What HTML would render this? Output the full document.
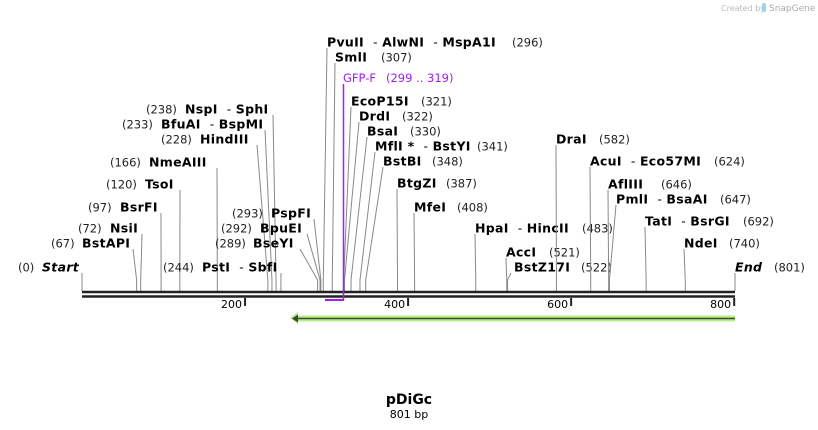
<!DOCTYPE html>
<html><head><meta charset="utf-8"><style>
html,body{margin:0;padding:0;background:#fff;}
svg{display:block;font-family:"DejaVu Sans","Liberation Sans",sans-serif;}
.n{font-weight:bold;font-size:12.5px;letter-spacing:0.3px;fill:#000;}
.p{font-size:11.5px;fill:#222;}
</style></head><body>
<svg id="map" width="818" height="430" viewBox="0 0 818 430">
<text x="721" y="11" font-size="8" fill="#bbb">Created by</text>
<rect x="762" y="3" width="4" height="9" rx="2" fill="#9cd3f2"></rect>
<text x="769" y="11" font-size="9" fill="#aaa">SnapGene</text>
<g id="sites"></g>
<line x1="82" y1="292" x2="735" y2="292" stroke="#222" stroke-width="2.6"></line>
<line x1="82" y1="296.5" x2="735" y2="296.5" stroke="#222" stroke-width="2.6"></line>
<g id="ticks"></g>
<g>
<line x1="343.5" y1="84" x2="343.5" y2="300" stroke="#a020f0" stroke-width="1.5"></line>
<line x1="325" y1="300" x2="344" y2="300" stroke="#a020f0" stroke-width="2"></line>
<text x="343" y="82" font-size="11.5" fill="#a020f0">GFP-F<tspan dx="10">(299 .. 319)</tspan></text>
</g>
<g>
<polygon points="290,318 298,312 298,315.5 735,315.5 735,321.5 298,321.5 298,324" fill="#b8ec8c"></polygon>
<line x1="296" y1="318.5" x2="735" y2="318.5" stroke="#3a4a30" stroke-width="1.6"></line>
<polygon points="292,318.5 298,314.5 298,322.5" fill="#3a4a30"></polygon>
</g>
<text x="409" y="404" text-anchor="middle" font-weight="bold" font-size="14">pDiGc</text>
<text x="409" y="418" text-anchor="middle" font-size="11">801 bp</text>
</svg>
<script>
const siteNames=["Start","BstAPI","NsiI","BsrFI","TsoI","NmeAIII","HindIII","BfuAI - BspMI","NspI - SphI","PstI - SbfI","BseYI","BpuEI","PspFI","PvuII - AlwNI - MspA1I","SmlI","EcoP15I","DrdI","BsaI","MflI * - BstYI","BstBI","BtgZI","MfeI","HpaI - HincII","AccI","BstZ17I","DraI","AcuI - Eco57MI","AflIII","PmlI - BsaAI","TatI - BsrGI","NdeI","End"];
const sitePositions=[0,67,72,97,120,166,228,233,238,244,289,292,293,296,307,321,322,330,341,348,387,408,483,521,522,582,624,646,647,692,740,801];
const tickValues=[200,400,600,800];
const totalBp=801;
// layout: [labelCenterY, nameX, numberX, lineTopX]
const layout=[[267,42,18,82],[243,82,51,133],[228,110,78,142],[207,120,88,161],[184,145,106,180],[162,149,110,217],[139,200,161,257],[124,161,122,265],[109,185,146,273],[267,202,163,281],[243,253,215,300],[228,260,221,307],[213,271,232,314],[42,327,512,327],[57,335,381,335],[101,351,421,351],[116,359,402,359],[131,367,410,367],[146,375,477,375],[161,383,432,383],[183,397,446,397],[207,414,457,414],[228,475,582,475],[252,506,549,506],[267,514,581,511],[139,556,599,556],[161,590,714,590],[184,608,661,608],[199,616,720,616],[221,645,743,645],[243,684,729,684],[267,735,774,735]];
const NS="http://www.w3.org/2000/svg";
const x0=82,x1=735;
function xs(bp){return x0+(x1-x0)*bp/totalBp;}
const g=document.getElementById('sites');
siteNames.forEach((nm,i)=>{
  const [cy,nx,px,tx]=layout[i];
  const sx=xs(sitePositions[i]);
  const grp=document.createElementNS(NS,'g');
  
  
  const pl=document.createElementNS(NS,'polyline');
  pl.setAttribute('points',`${sx},291 ${sx},280 ${tx},${cy+6}`);
  pl.setAttribute('fill','none');pl.setAttribute('stroke','#888');pl.setAttribute('stroke-width','1');
  grp.appendChild(pl);
  const t=document.createElementNS(NS,'text');
  t.setAttribute('x',nx);t.setAttribute('y',cy+4.5);t.setAttribute('class','n');
  if(nm==='Start'||nm==='End')t.setAttribute('font-style','italic');
  const parts=nm.split(' - ');
  parts.forEach((p,j)=>{
    if(j>0){const h=document.createElementNS(NS,'tspan');h.setAttribute('font-weight','normal');h.setAttribute('dx','9');h.textContent='-\u00a0';t.appendChild(h);}
    const s=document.createElementNS(NS,'tspan');s.textContent=p;t.appendChild(s);
  });
  
  
  grp.appendChild(t);
  const n=document.createElementNS(NS,'text');
  n.setAttribute('x',px);n.setAttribute('y',cy+4.5);n.setAttribute('class','p');
  n.textContent='('+sitePositions[i]+')';
  
  
  grp.appendChild(n);
  g.appendChild(grp);
});
const tg=document.getElementById('ticks');
tickValues.forEach(v=>{
  const x=xs(v);
  const l=document.createElementNS(NS,'line');
  l.setAttribute('x1',x);l.setAttribute('x2',x);l.setAttribute('y1',298);l.setAttribute('y2',306);
  l.setAttribute('stroke','#222');l.setAttribute('stroke-width','2');
  
  
  tg.appendChild(l);
  const t=document.createElementNS(NS,'text');
  t.setAttribute('x',x-3);t.setAttribute('y',308);t.setAttribute('text-anchor','end');t.setAttribute('font-size','11');
  t.textContent=v;
  
  
  tg.appendChild(t);
});
</script>
</body></html>
